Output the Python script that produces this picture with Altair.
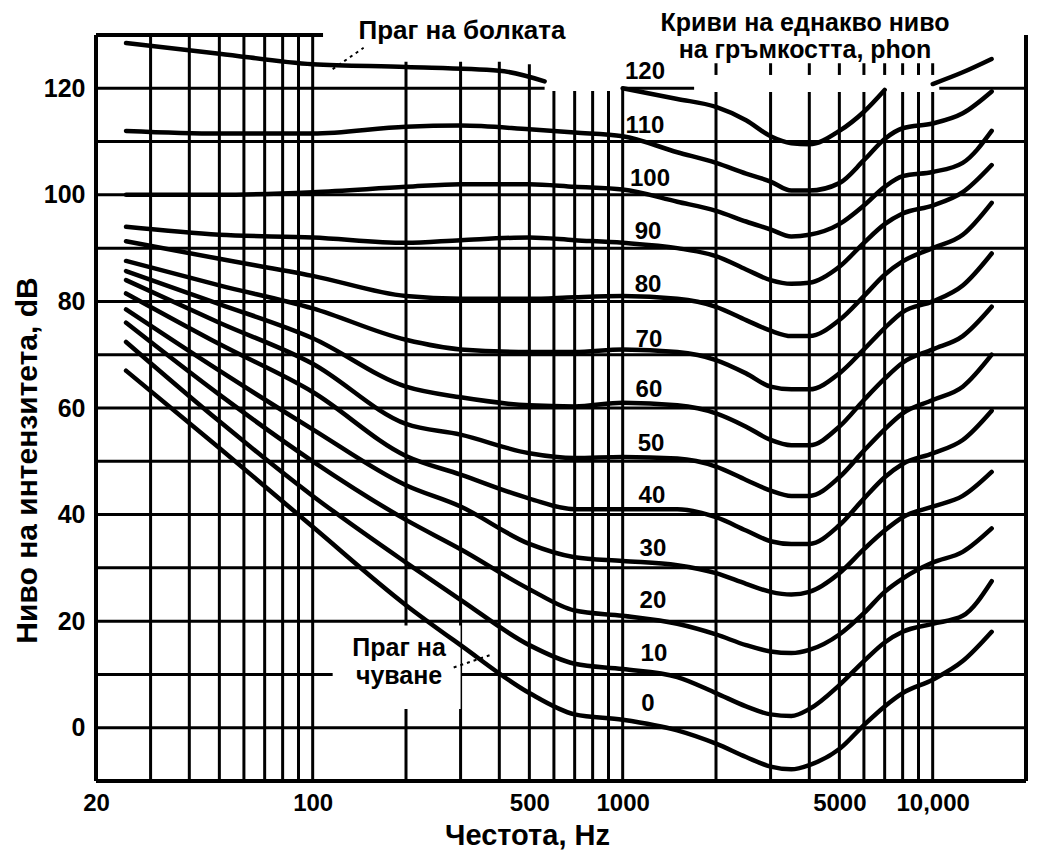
import altair as alt
import pandas as pd

FONT = "Liberation Sans, Arial, sans-serif"

# ---------------- data ----------------
FREQ = [25, 50, 100, 200, 300, 500, 700, 1000, 1500, 2000, 2500, 3000, 3500,
        4000, 5000, 6000, 7000, 8000, 10000, 12500, 15500]
PHON_LEVELS = [0, 10, 20, 30, 40, 50, 60, 70, 80, 90, 100, 110, 120]

PHON_0 = [67.0, 52.5, 37.7, 23.0, 15.5, 6.5, 2.5, 1.5, -0.5, -3.0, -5.5, -7.3, -7.8, -7.0, -4.0, 0.5, 4.0, 6.5, 9.0, 12.5, 18.0]
PHON_10 = [72.4, 57.5, 43.5, 31.0, 24.0, 15.5, 12.0, 11.0, 9.5, 6.5, 4.0, 2.5, 2.2, 3.5, 8.0, 12.5, 16.0, 18.0, 19.5, 21.0, 27.5]
PHON_20 = [76.0, 62.5, 50.0, 39.0, 33.5, 26.0, 22.0, 21.0, 19.5, 17.5, 15.5, 14.3, 14.0, 14.6, 17.5, 21.5, 25.5, 28.0, 31.0, 33.0, 37.4]
PHON_30 = [78.5, 67.0, 56.0, 45.5, 41.5, 34.5, 32.0, 31.3, 30.5, 29.0, 27.0, 25.5, 25.0, 25.5, 29.0, 33.5, 37.0, 39.5, 41.5, 43.5, 48.0]
PHON_40 = [81.5, 72.0, 63.0, 51.0, 47.5, 43.0, 41.0, 41.0, 41.0, 39.5, 37.0, 35.0, 34.5, 34.5, 38.0, 43.0, 47.0, 49.5, 51.5, 54.0, 59.5]
PHON_50 = [84.0, 76.0, 68.3, 57.0, 55.0, 51.5, 50.6, 50.8, 50.5, 49.0, 46.5, 44.5, 43.5, 43.5, 47.0, 52.0, 56.0, 59.0, 61.5, 64.0, 70.0]
PHON_60 = [85.7, 79.5, 73.1, 64.0, 62.0, 60.5, 60.3, 61.0, 60.5, 59.0, 56.5, 54.0, 53.0, 53.0, 56.5, 61.5, 65.5, 68.5, 71.0, 73.5, 79.0]
PHON_70 = [87.6, 83.0, 78.7, 72.8, 71.0, 70.5, 70.5, 71.0, 70.5, 69.0, 66.5, 64.0, 63.5, 63.5, 66.5, 71.0, 75.0, 78.0, 80.0, 83.0, 89.0]
PHON_80 = [91.3, 88.0, 84.8, 81.0, 80.5, 80.5, 80.8, 81.0, 80.5, 79.0, 76.5, 74.5, 73.5, 73.5, 76.5, 81.0, 85.0, 87.5, 90.0, 92.5, 98.5]
PHON_90 = [94.0, 92.5, 92.0, 91.0, 91.5, 92.0, 91.5, 91.0, 90.0, 88.5, 86.0, 84.0, 83.3, 83.5, 86.5, 91.0, 94.5, 96.5, 98.0, 100.5, 105.6]
PHON_100 = [100.0, 100.0, 100.5, 101.5, 102.0, 102.0, 101.5, 101.0, 98.7, 97.0, 95.0, 93.5, 92.2, 92.5, 94.5, 98.0, 101.5, 103.5, 104.3, 106.0, 112.0]
PHON_110 = [112.0, 111.5, 111.5, 112.8, 113.0, 112.3, 111.7, 111.0, 108.0, 106.0, 104.0, 102.5, 100.8, 100.8, 102.2, 106.5, 110.5, 112.5, 113.4, 115.3, 119.4]
PHON_120 = [None, None, None, None, None, None, None, 120.0, 118.0, 116.5, 114.0, 111.0, 109.7, 109.5, 112.0, 115.6, 119.7, None, 120.8, 123.0, 125.5]

PAIN_FREQ = [25, 50, 100, 200, 400, 560]
PAIN_DB = [128.5, 126.5, 124.5, 124.0, 123.3, 121.3]

# grid of the figure
GRID_F = [30, 40, 50, 60, 70, 80, 90, 100, 200, 300, 400, 500, 600, 700, 800, 900,
          1000, 2000, 3000, 4000, 5000, 6000, 7000, 8000, 9000, 10000]
GRID_TOP = [130, 130, 130, 130, 130, 130, 130, 130, 125, 125, 125, 124.5, 119.5, 119.5, 119.5, 119.5,
            120, 119.3, 119.3, 119.3, 119.3, 119.3, 119.3, 119.3, 119.3, 119.3]
TICK_F = [2000, 3000, 4000, 5000, 6000, 7000, 8000, 9000, 10000]
H_DB = [0, 10, 20, 30, 40, 50, 60, 70, 80, 90, 100, 110, 120, 120, 120]
H_F1 = [20, 20, 20, 20, 20, 20, 20, 20, 20, 20, 20, 20, 20, 1000, 10500]
H_F2 = [20000] * 12 + [560, 1700, 20000]

X_TICKS = [20, 100, 500, 1000, 5000, 10000]
Y_TICKS = [0, 20, 40, 60, 80, 100, 120]

LABEL_TEXT = ["120", "110", "100", "90", "80", "70", "60", "50", "40", "30", "20", "10", "0"]
LABEL_F = [1180, 1180, 1225, 1207, 1207, 1215, 1215, 1235, 1243, 1252, 1252, 1261, 1207]
LABEL_DB = [123.0, 113.0, 103.0, 93.0, 83.1, 72.8, 63.3, 53.3, 43.5, 33.5, 23.7, 13.9, 4.4]

NOTE_TEXT = ["Праг на болката", "Криви на еднакво ниво", "на гръмкостта, phon", "Праг на", "чуване"]
NOTE_F = [303, 3874, 3874, 190, 190]
NOTE_DB = [129.3, 130.75, 125.68, 13.5, 8.2]
NOTE_SIZE = [26, 25, 25, 25, 25]

# ---------------- tables ----------------
curve_values = [PHON_0, PHON_10, PHON_20, PHON_30, PHON_40, PHON_50, PHON_60,
                PHON_70, PHON_80, PHON_90, PHON_100, PHON_110, PHON_120]
rows = []
for level, vals in zip(PHON_LEVELS, curve_values):
    seg = 0
    for f, v in zip(FREQ, vals):
        if v is None:
            seg += 1
            continue
        rows.append({"curve": f"{level}-{seg}", "f": f, "db": v})
for f, v in zip(PAIN_FREQ, PAIN_DB):
    rows.append({"curve": "pain", "f": f, "db": v})
curves = pd.DataFrame(rows)

vgrid = pd.DataFrame({"f": GRID_F, "lo": [-10] * len(GRID_F), "hi": GRID_TOP})
ticks = pd.DataFrame({"f": TICK_F, "lo": [122.5] * len(TICK_F), "hi": [124.7] * len(TICK_F)})
hgrid = pd.DataFrame({"db": H_DB, "f1": H_F1, "f2": H_F2})
vframe = pd.DataFrame({"f": [20, 20000], "lo": [-10, -10], "hi": [130, 130]})
hframe = pd.DataFrame({"db": [-10, 130], "f1": [20, 20], "f2": [20000, 108]})
box = pd.DataFrame({"f1": [116], "f2": [300], "d1": [3.5], "d2": [19.2]})
leaders = pd.DataFrame({"f1": [116, 285], "f2": [146, 372], "d1": [123.6, 11.3], "d2": [127.6, 13.6]})
labels = pd.DataFrame({"f": LABEL_F, "db": LABEL_DB, "t": LABEL_TEXT})
notes = pd.DataFrame({"f": NOTE_F, "db": NOTE_DB, "t": NOTE_TEXT, "s": NOTE_SIZE})

# ---------------- encodings ----------------
xscale = alt.Scale(type="log", domain=[20, 20000])
yscale = alt.Scale(domain=[-10, 130])
xaxis = alt.Axis(values=X_TICKS, labelExpr="datum.value == 10000 ? '10,000' : format(datum.value, 'd')",
                 grid=False, ticks=False, domain=False, labelFont=FONT, labelFontSize=24,
                 labelFontWeight="bold", labelColor="black", labelPadding=10, labelFlush=False,
                 labelOverlap=False, title="Честота, Hz", titleFont=FONT, titleFontSize=29,
                 titleFontWeight="bold", titleColor="black", titleX=431, titleY=63.5,
                 titleAlign="center", titleBaseline="alphabetic")
yaxis = alt.Axis(values=Y_TICKS, grid=False, ticks=False, domain=False, labelFont=FONT,
                 labelFontSize=25, labelFontWeight="bold", labelColor="black", labelPadding=11,
                 title="Ниво на интензитета, dB", titleFont=FONT, titleFontSize=30,
                 titleFontWeight="bold", titleColor="black", titleAngle=270, titleX=-60,
                 titleY=425, titleAlign="center", titleBaseline="alphabetic")


def X(field):
    return alt.X(field, type="quantitative", scale=xscale, axis=xaxis)


def Y(field):
    return alt.Y(field, type="quantitative", scale=yscale, axis=yaxis)


vlines = alt.Chart(vgrid).mark_rule(color="black", strokeWidth=3).encode(
    x=X("f"), y=Y("lo"), y2="hi")
tlines = alt.Chart(ticks).mark_rule(color="black", strokeWidth=3).encode(
    x=X("f"), y=Y("lo"), y2="hi")
hlines = alt.Chart(hgrid).mark_rule(color="black", strokeWidth=3).encode(
    x=X("f1"), x2="f2", y=Y("db"))
vfr = alt.Chart(vframe).mark_rule(color="black", strokeWidth=4).encode(
    x=X("f"), y=Y("lo"), y2="hi")
hfr = alt.Chart(hframe).mark_rule(color="black", strokeWidth=4).encode(
    x=X("f1"), x2="f2", y=Y("db"))
blank = alt.Chart(box).mark_rect(color="white").encode(
    x=X("f1"), x2="f2", y=Y("d1"), y2="d2")
lines = alt.Chart(curves).mark_line(color="black", strokeWidth=4.5, interpolate="monotone",
                                    strokeCap="round", strokeJoin="round").encode(
    x=X("f"), y=Y("db"), detail="curve:N")
lead = alt.Chart(leaders).mark_rule(color="black", strokeWidth=2, strokeDash=[3, 4]).encode(
    x=X("f1"), x2="f2", y=Y("d1"), y2="d2")
lab = alt.Chart(labels).mark_text(font=FONT, fontSize=24, fontWeight="bold", color="black",
                                  align="center", baseline="middle").encode(
    x=X("f"), y=Y("db"), text="t:N")
note = alt.Chart(notes).mark_text(font=FONT, fontWeight="bold", color="black",
                                  align="center", baseline="alphabetic").encode(
    x=X("f"), y=Y("db"), text="t:N",
    size=alt.Size("s:Q", scale=None, legend=None))

chart = alt.layer(vlines, tlines, hlines, vfr, hfr, blank, lines, lead, lab, note).properties(
    width=930, height=746,
    autosize=alt.AutoSizeParams(type="none"),
    padding={"left": 88, "top": 27, "right": 10, "bottom": 70},
    background="white",
).configure_view(stroke=None)

chart.save("out.html", embed_options={"renderer": "svg", "actions": False})
